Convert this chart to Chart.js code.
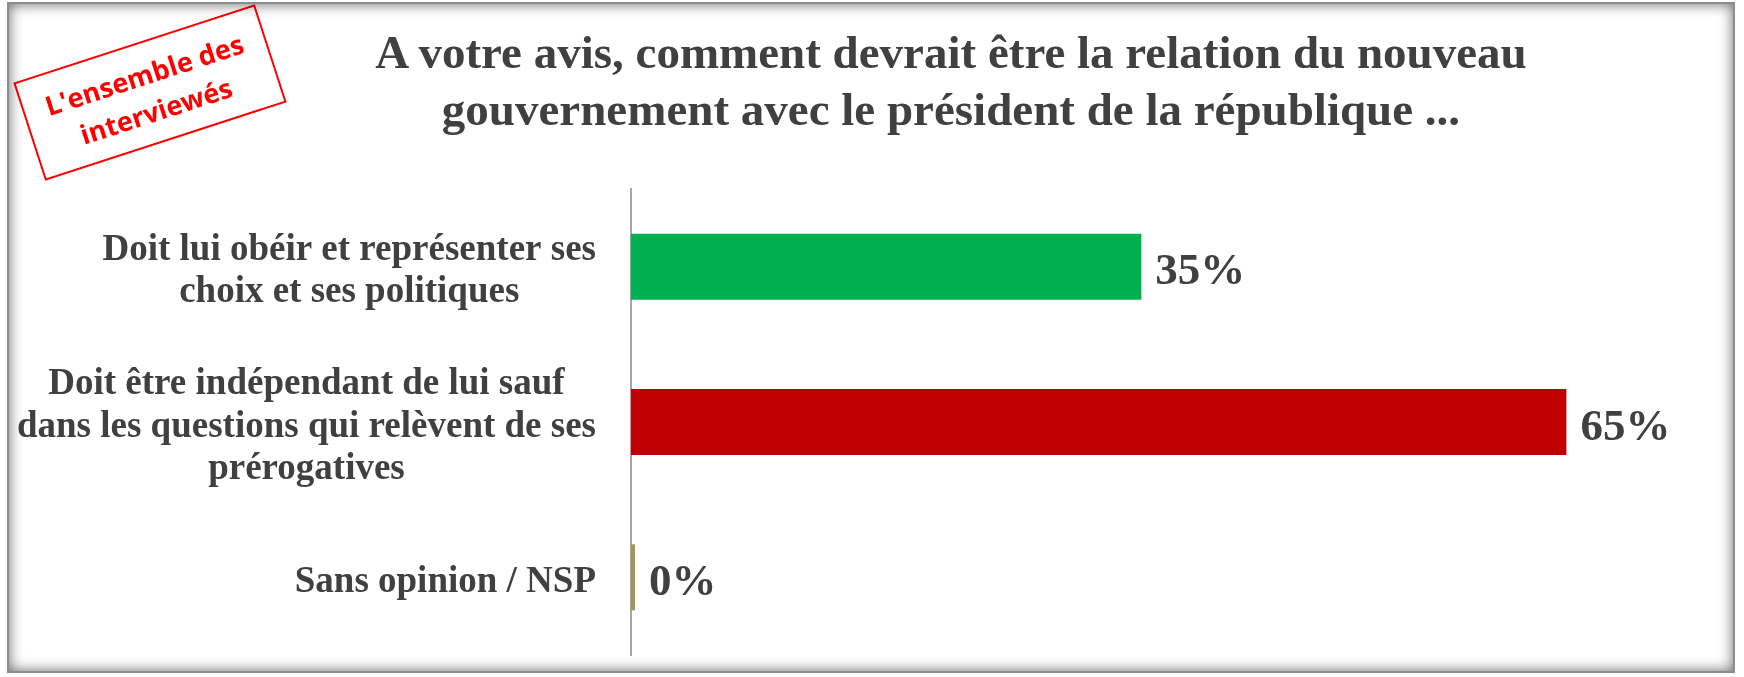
<!DOCTYPE html>
<html lang="fr">
<head>
<meta charset="utf-8">
<title>Relation du nouveau gouvernement avec le président</title>
<script src="https://cdn.jsdelivr.net/npm/chart.js@4/dist/chart.umd.min.js"></script>
<style>
    html, body { margin: 0; padding: 0; background: #ffffff; }
    #wrap { position: relative; width: 1744px; height: 677px; overflow: hidden; }
    #chart { position: absolute; left: 0; top: 0; }
    #frame {
        position: absolute; left: 7px; top: 2px; width: 1724px; height: 667px;
        border: 2px solid #8c8c8c;
        box-shadow: inset 0 0 14px rgba(0, 0, 0, 0.6);
        pointer-events: none;
    }
    #title {
        position: absolute; left: 951px; top: 24px; transform: translateX(-50%);
        font-family: "Liberation Serif", "Times New Roman", serif; font-weight: bold;
        font-size: 47px; line-height: 57px; color: #404040;
        text-align: center; white-space: nowrap;
    }
    #stamp {
        position: absolute; left: 23px; top: 41px; width: 250px; height: 99px;
        border: 2px solid #ff0000; transform: rotate(-18deg);
        font-family: "Open Sans", "Liberation Sans", sans-serif; font-weight: bold;
        font-size: 27px; line-height: 38px; color: #ff0000;
        display: flex; flex-direction: column; justify-content: center; align-items: center;
        white-space: nowrap;
    }
</style>
</head>
<body>
<div id="wrap">
    <canvas id="chart" width="1744" height="677"></canvas>
    <div id="title">A votre avis, comment devrait être la relation du nouveau<br>gouvernement avec le président de la république ...</div>
    <div id="stamp"><span>L'ensemble des</span><span>interviewés</span></div>
    <div id="frame"></div>
</div>
<script>
// Categories (one line per array entry) and values in percent
const categories = [
    ['Doit lui obéir et représenter ses', 'choix et ses politiques'],
    ['Doit être indépendant de lui sauf', 'dans les questions qui relèvent de ses', 'prérogatives'],
    ['Sans opinion / NSP']
];
const values = [35.3, 64.7, 0];
const barColors = ['#00B050', '#C00000', '#A39658'];
const axisMax = 70;

const textColor = '#404040';

// Category labels: each block right aligned, lines centred inside the block
const categoryLabels = {
    id: 'categoryLabels',
    afterDraw(chart) {
        const ctx = chart.ctx;
        const yScale = chart.scales.y;
        const rightEdge = 596;
        const lineHeight = 42.5;
        ctx.save();
        ctx.font = 'bold 37px "Liberation Serif", "Times New Roman", serif';
        ctx.fillStyle = textColor;
        ctx.textAlign = 'center';
        ctx.textBaseline = 'middle';
        categories.forEach((lines, i) => {
            const blockWidth = Math.max(...lines.map(l => ctx.measureText(l).width));
            const cx = rightEdge - blockWidth / 2;
            const cy = yScale.getPixelForValue(i) + 5;
            const top = cy - (lines.length - 1) * lineHeight / 2;
            lines.forEach((line, j) => ctx.fillText(line, cx, top + j * lineHeight));
        });
        ctx.restore();
    }
};

// Value labels at the end of each bar
const valueLabels = {
    id: 'valueLabels',
    afterDatasetsDraw(chart) {
        const ctx = chart.ctx;
        const meta = chart.getDatasetMeta(0);
        ctx.save();
        ctx.font = 'bold 45px "Liberation Serif", "Times New Roman", serif';
        ctx.fillStyle = textColor;
        ctx.textAlign = 'left';
        ctx.textBaseline = 'middle';
        meta.data.forEach((bar, i) => {
            ctx.fillText(Math.round(values[i]) + '%', bar.x + 14, bar.y + 6);
        });
        ctx.restore();
    }
};

new Chart(document.getElementById('chart'), {
    type: 'bar',
    data: {
        labels: categories,
        datasets: [{
            data: values,
            backgroundColor: barColors,
            borderWidth: 0,
            minBarLength: 4,
            barPercentage: 0.425,
            categoryPercentage: 1
        }]
    },
    options: {
        indexAxis: 'y',
        responsive: false,
        animation: false,
        layout: {
            padding: { left: 0, right: 101, top: 189, bottom: 22 }
        },
        plugins: {
            legend: { display: false },
            tooltip: { enabled: false }
        },
        scales: {
            x: {
                display: false,
                min: 0,
                max: axisMax
            },
            y: {
                ticks: { display: false },
                grid: { display: false },
                border: { display: true, color: '#a6a6a6', width: 2 },
                afterFit: scale => { scale.width = 631; }
            }
        }
    },
    plugins: [categoryLabels, valueLabels]
});
</script>
</body>
</html>
